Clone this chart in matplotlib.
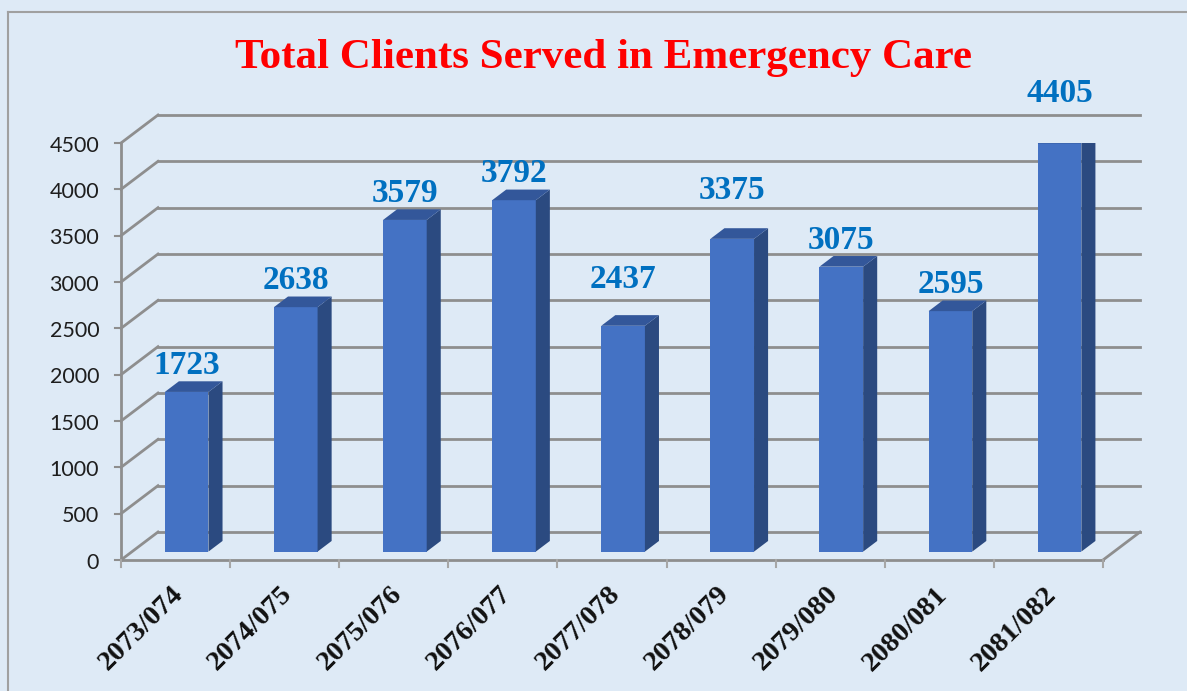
import numpy as np
import matplotlib.pyplot as plt
from matplotlib.patches import Polygon
from matplotlib.lines import Line2D

# data
years = ["2073/074", "2074/075", "2075/076", "2076/077", "2077/078",
         "2078/079", "2079/080", "2080/081", "2081/082"]
clients = [1723, 2638, 3579, 3792, 2437, 3375, 3075, 2595, 4405]
yticks = [0, 500, 1000, 1500, 2000, 2500, 3000, 3500, 4000, 4500]

# extra lift of some value labels (points)
label_lift = [0, 0, 0, 0, 14, 16, 0, 0, 17]

bg = "#DEEAF6"
grid_c = "#8E8E8E"
front_c = "#4472C4"
side_c = "#2B4A80"
top_c = "#33579A"

# oblique projection: depth 1 -> shift in data units
DX = 0.339
DY = 302.0
d0, d1 = 0.30, 0.68
bw = 0.40

fig = plt.figure(figsize=(11.87, 6.91), dpi=100)
fig.patch.set_facecolor(bg)
ax = fig.add_axes([121 / 1187, 131 / 691, 982 / 1187, 417 / 691])
ax.set_xlim(0, len(years))
ax.set_ylim(0, 4500)
ax.axis("off")

n = len(years)
ymax = yticks[-1]

# back walls / grid
for v in yticks:
    ax.plot([0, DX], [v, v + DY], color=grid_c, lw=2, clip_on=False, zorder=1)
    ax.plot([DX, n + DX], [v + DY, v + DY], color=grid_c, lw=2,
            clip_on=False, zorder=1)
    ax.plot([-0.055, 0], [v, v], color=grid_c, lw=1.5, clip_on=False, zorder=1)
    ax.annotate(str(v), (-0.2, v), xytext=(0, -2), textcoords="offset points",
                ha="right", va="center", fontsize=15.5, family="Lato",
                color="#1E1E1E", annotation_clip=False)
# floor
ax.plot([0, n], [0, 0], color=grid_c, lw=2, clip_on=False, zorder=1)
ax.plot([n, n + DX], [0, DY], color=grid_c, lw=2, clip_on=False, zorder=1)
ax.plot([0, 0], [0, ymax], color=grid_c, lw=2, clip_on=False, zorder=1)
for k in range(n + 1):
    ax.plot([k, k], [0, -80], color="#A6A6A6", lw=1.5, clip_on=False, zorder=1)

# bars
dd = d1 - d0
for i, v in enumerate(clients):
    xc = i + 0.5 + d0 * DX
    b = d0 * DY
    ax.bar(xc, v, width=bw, bottom=b, color=front_c, zorder=3)
    xl, xr = xc - bw / 2, xc + bw / 2
    t = b + v
    side = Polygon([(xr, b), (xr + dd * DX, b + dd * DY),
                    (xr + dd * DX, t + dd * DY), (xr, t)],
                   closed=True, facecolor=side_c, edgecolor="none", zorder=3)
    top = Polygon([(xl, t), (xr, t), (xr + dd * DX, t + dd * DY),
                   (xl + dd * DX, t + dd * DY)],
                  closed=True, facecolor=top_c, edgecolor="none", zorder=3)
    ax.add_patch(side)
    ax.add_patch(top)
    ax.annotate(str(v), (xc, t), xytext=(0, 13 + label_lift[i]),
                textcoords="offset points", ha="center", va="baseline",
                fontsize=24, fontweight="bold", family="Liberation Serif",
                color="#0070C0", zorder=4)

# category labels
for i, lab in enumerate(years):
    ax.annotate(lab, (i + 0.5, 0), xytext=(3, -22), textcoords="offset points",
                ha="right", va="center", rotation=45, rotation_mode="anchor",
                fontsize=20.5, fontweight="bold", family="Liberation Serif",
                color="#111111")

fig.text(604 / 1187, 1 - 58 / 691, "Total Clients Served in Emergency Care",
         ha="center", va="center", fontsize=31, fontweight="bold",
         family="Liberation Serif", color="#FF0000")

# outer frame (top and left)
fig.add_artist(Line2D([8 / 1187, 1], [1 - 12 / 691, 1 - 12 / 691],
                      color="#A0A0A0", lw=1.5))
fig.add_artist(Line2D([8 / 1187, 8 / 1187], [0, 1 - 12 / 691],
                      color="#A0A0A0", lw=1.5))

fig.savefig("out.png", dpi=100, facecolor=bg)
